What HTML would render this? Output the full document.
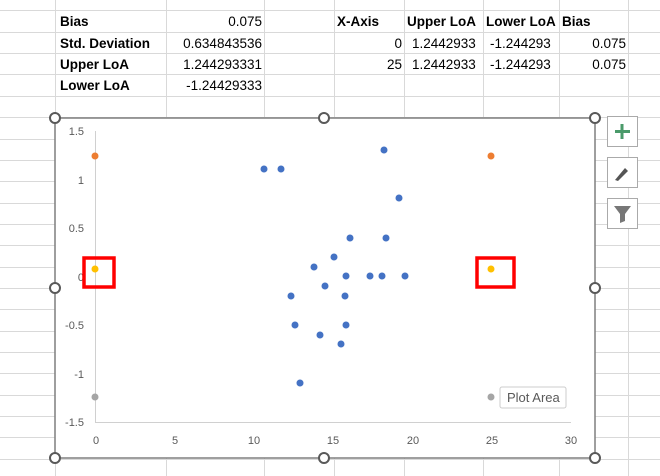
<html><head><style>
body{margin:0;width:660px;height:476px;overflow:hidden;background:#fff;font-family:"Liberation Sans",sans-serif;}
.c{position:absolute;font-size:13.5px;color:#000;line-height:21px;}
.b{font-weight:bold;}
.r{text-align:right;}
</style></head><body>
<svg width="660" height="476" style="position:absolute;left:0;top:0">
<g stroke="#d9d9d9" stroke-width="1">
<line x1="0" y1="10.5" x2="660" y2="10.5"/><line x1="0" y1="32.5" x2="660" y2="32.5"/><line x1="0" y1="53.5" x2="660" y2="53.5"/><line x1="0" y1="74.5" x2="660" y2="74.5"/><line x1="0" y1="96.5" x2="660" y2="96.5"/>
<line x1="0" y1="117.5" x2="660" y2="117.5"/><line x1="0" y1="139.5" x2="660" y2="139.5"/><line x1="0" y1="160.5" x2="660" y2="160.5"/><line x1="0" y1="181.5" x2="660" y2="181.5"/><line x1="0" y1="203.5" x2="660" y2="203.5"/><line x1="0" y1="224.5" x2="660" y2="224.5"/><line x1="0" y1="245.5" x2="660" y2="245.5"/><line x1="0" y1="267.5" x2="660" y2="267.5"/><line x1="0" y1="288.5" x2="660" y2="288.5"/><line x1="0" y1="309.5" x2="660" y2="309.5"/><line x1="0" y1="331.5" x2="660" y2="331.5"/><line x1="0" y1="352.5" x2="660" y2="352.5"/><line x1="0" y1="373.5" x2="660" y2="373.5"/><line x1="0" y1="395.5" x2="660" y2="395.5"/><line x1="0" y1="416.5" x2="660" y2="416.5"/><line x1="0" y1="437.5" x2="660" y2="437.5"/><line x1="0" y1="459.5" x2="660" y2="459.5"/>
<line x1="55.5" y1="0" x2="55.5" y2="476"/><line x1="166.5" y1="0" x2="166.5" y2="476"/><line x1="264.5" y1="0" x2="264.5" y2="476"/><line x1="334.5" y1="0" x2="334.5" y2="476"/><line x1="404.5" y1="0" x2="404.5" y2="476"/><line x1="483.5" y1="0" x2="483.5" y2="476"/><line x1="559.5" y1="0" x2="559.5" y2="476"/><line x1="628.5" y1="0" x2="628.5" y2="476"/>
</g>
<rect x="55" y="118" width="540" height="340" fill="#fff" stroke="#7f7f7f" stroke-width="1.5"/>
<line x1="95.5" y1="131" x2="95.5" y2="423" stroke="#d0d0d0"/>
<line x1="95" y1="422.5" x2="571" y2="422.5" stroke="#d0d0d0"/>
<g font-size="11" fill="#595959" font-family="Liberation Sans,sans-serif" text-anchor="end">
<text x="84" y="135">1.5</text><text x="84" y="184">1</text><text x="84" y="232">0.5</text><text x="84" y="281">0</text><text x="84" y="329">-0.5</text><text x="84" y="378">-1</text><text x="84" y="426">-1.5</text>
</g>
<g font-size="11" fill="#595959" font-family="Liberation Sans,sans-serif" text-anchor="middle">
<text x="96" y="444">0</text><text x="175" y="444">5</text><text x="254" y="444">10</text><text x="333" y="444">15</text><text x="413" y="444">20</text><text x="492" y="444">25</text><text x="571" y="444">30</text>
</g>
<g fill="#4472c4">
<circle cx="264" cy="169" r="3.5"/><circle cx="281" cy="169" r="3.5"/><circle cx="384" cy="150" r="3.5"/><circle cx="399" cy="198" r="3.5"/><circle cx="350" cy="238" r="3.5"/><circle cx="386" cy="238" r="3.5"/><circle cx="334" cy="257" r="3.5"/><circle cx="314" cy="267" r="3.5"/><circle cx="346" cy="276" r="3.5"/><circle cx="370" cy="276" r="3.5"/><circle cx="382" cy="276" r="3.5"/><circle cx="405" cy="276" r="3.5"/><circle cx="325" cy="286" r="3.5"/><circle cx="291" cy="296" r="3.5"/><circle cx="345" cy="296" r="3.5"/><circle cx="295" cy="325" r="3.5"/><circle cx="346" cy="325" r="3.5"/><circle cx="320" cy="335" r="3.5"/><circle cx="341" cy="344" r="3.5"/><circle cx="300" cy="383" r="3.5"/>
</g>
<g fill="#ed7d31"><circle cx="95" cy="156" r="3.5"/><circle cx="491" cy="156" r="3.5"/></g>
<g fill="#ffc000"><circle cx="95" cy="269" r="3.5"/><circle cx="491" cy="269" r="3.5"/></g>
<g fill="#a5a5a5"><circle cx="95" cy="397" r="3.5"/><circle cx="491" cy="397" r="3.5"/></g>
<g fill="none" stroke="#ff0000" stroke-width="3.5">
<rect x="84" y="258" width="30" height="29"/><rect x="477" y="258" width="37" height="29"/>
</g>
<rect x="500" y="387" width="66" height="21" fill="#fff" stroke="#ccc" rx="2"/>
<text x="507" y="402" font-size="13" fill="#595959" font-family="Liberation Sans,sans-serif">Plot Area</text>
<g fill="#fff" stroke="#595959" stroke-width="2">
<circle cx="55" cy="118" r="5"/><circle cx="324" cy="118" r="5"/><circle cx="595" cy="118" r="5"/><circle cx="55" cy="288" r="5"/><circle cx="595" cy="288" r="5"/><circle cx="55" cy="458" r="5"/><circle cx="324" cy="458" r="5"/><circle cx="595" cy="458" r="5"/>
</g>
<g fill="#fff" stroke="#aaa"><rect x="607.5" y="116.5" width="30" height="30"/><rect x="607.5" y="157.5" width="30" height="30"/><rect x="607.5" y="198.5" width="30" height="30"/></g>
<path d="M622 124v15M615 131.5h15" stroke="#4a9a6a" stroke-width="3"/>
<path d="M615 180l10-12 3 3-10 10z" fill="#555"/>
<path d="M614 206h17l-6 8v7l-5 2v-9z" fill="#777"/>
</svg>
<div class="c b" style="left:60px;top:11px">Bias</div>
<div class="c r" style="left:166px;top:11px;width:96px">0.075</div>
<div class="c b" style="left:60px;top:33px">Std. Deviation</div>
<div class="c r" style="left:166px;top:33px;width:96px">0.634843536</div>
<div class="c b" style="left:60px;top:54px">Upper LoA</div>
<div class="c r" style="left:166px;top:54px;width:96px">1.244293331</div>
<div class="c b" style="left:60px;top:75px">Lower LoA</div>
<div class="c r" style="left:166px;top:75px;width:96px">-1.24429333</div>
<div class="c b" style="left:337px;top:11px">X-Axis</div>
<div class="c b" style="left:407px;top:11px">Upper LoA</div>
<div class="c b" style="left:486px;top:11px">Lower LoA</div>
<div class="c b" style="left:562px;top:11px">Bias</div>
<div class="c r" style="left:334px;top:33px;width:68px">0</div>
<div class="c" style="left:412px;top:33px">1.2442933</div>
<div class="c" style="left:490px;top:33px">-1.244293</div>
<div class="c r" style="left:559px;top:33px;width:67px">0.075</div>
<div class="c r" style="left:334px;top:54px;width:68px">25</div>
<div class="c" style="left:412px;top:54px">1.2442933</div>
<div class="c" style="left:490px;top:54px">-1.244293</div>
<div class="c r" style="left:559px;top:54px;width:67px">0.075</div>
</body></html>
